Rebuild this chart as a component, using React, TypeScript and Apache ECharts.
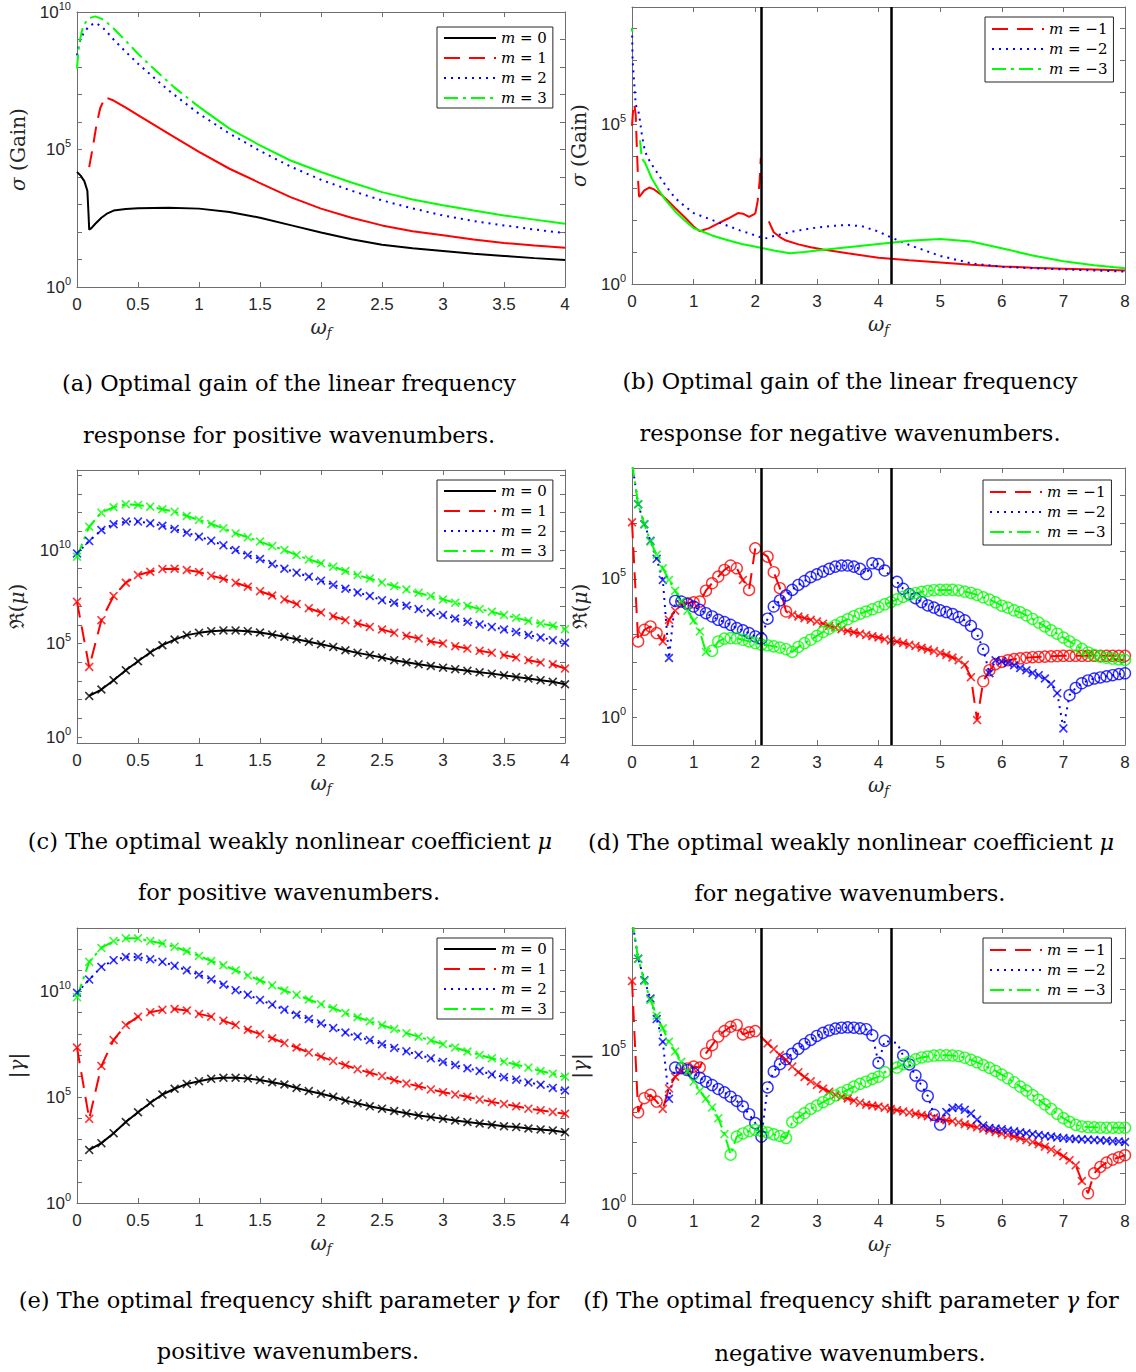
import React, { useEffect, useRef } from 'react';
import * as echarts from 'echarts';

const SERIF = 'DejaVu Serif';
const SANS = 'Liberation Sans';
const INK = '#262626';
const FRAME = '#6e6e6e';
const RED = '#ff0000';
const BLUE = '#0000ff';
const GREEN = '#00ff00';
const BLACK = '#000000';

const DASHED = [16, 9];
const DOTTED = [2, 5];
const DASHDOT = [14, 5, 3, 5];
const CROSS = 'path://M0,1.3L1.3,0L5,3.7L8.7,0L10,1.3L6.3,5L10,8.7L8.7,10L5,6.3L1.3,10L0,8.7L3.7,5Z';

const POS_NAMES = ['m = 0', 'm = 1', 'm = 2', 'm = 3'];
const NEG_NAMES = ['m = \u22121', 'm = \u22122', 'm = \u22123'];
const negBoundaries = [2.1, 4.2];

// ---------- panel (a): sigma, positive m (log10 values) ----------
const aX0 = [0, 0.03, 0.06, 0.085, 0.095, 0.1, 0.12, 0.15, 0.2, 0.25, 0.3, 0.4, 0.5, 0.75, 1.0, 1.25, 1.5, 1.75, 2.0, 2.25, 2.5, 2.75, 3.0, 3.25, 3.5, 3.75, 4.0];
const aY0 = [4.18, 4.05, 3.85, 3.5, 2.6, 2.08, 2.15, 2.3, 2.52, 2.68, 2.78, 2.84, 2.86, 2.88, 2.85, 2.73, 2.52, 2.25, 1.98, 1.74, 1.54, 1.41, 1.31, 1.21, 1.13, 1.05, 0.98];
const aX1d = [0.1, 0.13, 0.16, 0.19, 0.22, 0.25];
const aY1d = [4.36, 5.1, 5.9, 6.5, 6.8, 6.87];
const aX1s = [0.25, 0.3, 0.4, 0.5, 0.75, 1.0, 1.25, 1.5, 1.75, 2.0, 2.25, 2.5, 2.75, 3.0, 3.25, 3.5, 3.75, 4.0];
const aY1s = [6.87, 6.78, 6.52, 6.25, 5.58, 4.91, 4.3, 3.78, 3.27, 2.85, 2.52, 2.24, 2.03, 1.88, 1.73, 1.6, 1.51, 1.43];
const aX2 = [0, 0.02, 0.05, 0.1, 0.15, 0.2, 0.25, 0.3, 0.4, 0.5, 0.75, 1.0, 1.25, 1.5, 1.75, 2.0, 2.25, 2.5, 2.75, 3.0, 3.25, 3.5, 3.75, 4.0];
const aY2 = [8.42, 8.9, 9.2, 9.5, 9.6, 9.48, 9.25, 9.0, 8.55, 8.12, 7.15, 6.3, 5.58, 4.95, 4.38, 3.9, 3.5, 3.15, 2.86, 2.6, 2.4, 2.24, 2.09, 1.96];
const aX3d = [0, 0.01, 0.02, 0.05, 0.1, 0.15, 0.2, 0.25, 0.3, 0.4, 0.5, 0.6, 0.7, 0.8, 0.9, 1.0];
const aY3d = [7.94, 8.5, 8.9, 9.5, 9.78, 9.84, 9.76, 9.6, 9.4, 8.95, 8.48, 8.06, 7.65, 7.25, 6.9, 6.55];
const aX3s = [1.0, 1.25, 1.5, 1.75, 2.0, 2.25, 2.5, 2.75, 3.0, 3.25, 3.5, 3.75, 4.0];
const aY3s = [6.55, 5.76, 5.15, 4.6, 4.18, 3.8, 3.45, 3.18, 2.97, 2.78, 2.6, 2.45, 2.3];

// ---------- panel (b): sigma, negative m ----------
const bX1a = [0, 0.02, 0.035, 0.06, 0.08, 0.1, 0.115];
const bY1a = [4.95, 5.5, 5.65, 5.3, 4.2, 3.2, 2.72];
const bX1b = [0.115, 0.2, 0.28, 0.36, 0.45, 0.55, 0.7, 0.86, 1.0, 1.1, 1.25, 1.4, 1.56, 1.72, 1.8, 1.9, 2.0];
const bY1b = [2.72, 2.93, 3.02, 2.96, 2.83, 2.67, 2.38, 2.08, 1.8, 1.65, 1.75, 1.9, 2.05, 2.22, 2.2, 2.1, 2.2];
const bX1c = [2.0, 2.04, 2.07, 2.09];
const bY1c = [2.2, 2.6, 3.2, 3.95];
const bX1d = [2.22, 2.3, 2.4, 2.5, 2.7, 2.9, 3.1, 3.5, 4.0, 4.5, 5.0, 5.5, 6.0, 6.5, 7.0, 7.5, 8.0];
const bY1d = [1.96, 1.62, 1.47, 1.36, 1.24, 1.15, 1.08, 0.96, 0.82, 0.74, 0.67, 0.6, 0.55, 0.51, 0.48, 0.45, 0.42];
const bX2 = [0, 0.01, 0.06, 0.1, 0.13, 0.16, 0.21, 0.29, 0.43, 0.54, 0.7, 0.86, 1.0, 1.25, 1.5, 1.75, 2.0, 2.15, 2.3, 2.6, 2.9, 3.2, 3.5, 3.75, 4.0, 4.2, 4.5, 5.0, 5.5, 6.0, 6.5, 7.0, 7.5, 8.0];
const bY2 = [8.0, 7.0, 5.6, 5.45, 5.1, 4.67, 4.15, 3.83, 3.42, 3.1, 2.69, 2.43, 2.22, 2.04, 1.86, 1.68, 1.52, 1.42, 1.5, 1.64, 1.74, 1.81, 1.85, 1.8, 1.64, 1.46, 1.22, 0.88, 0.65, 0.54, 0.49, 0.46, 0.42, 0.39];
const bX3a = [0, 0.006];
const bY3a = [8.0, 7.9];
const bX3b = [0.13, 0.15, 0.17];
const bY3b = [4.5, 4.1, 3.9];
const bX3c = [0.17, 0.21, 0.32, 0.43, 0.54, 0.7, 0.86, 1.0, 1.13, 1.3, 1.5, 1.78, 2.05, 2.32, 2.56, 2.8, 3.0, 3.5, 4.0, 4.2, 4.5, 5.0, 5.5, 6.0, 6.5, 7.0, 7.5, 8.0];
const bY3c = [3.9, 3.8, 3.31, 2.95, 2.64, 2.27, 1.98, 1.75, 1.65, 1.52, 1.4, 1.25, 1.15, 1.04, 0.96, 1.0, 1.05, 1.15, 1.25, 1.29, 1.35, 1.41, 1.33, 1.12, 0.89, 0.71, 0.59, 0.49];

// ---------- panels (c), (e): positive m, omega_f = 0 ... 4 ----------
const posOmega = [0, 0.1, 0.2, 0.3, 0.4, 0.5, 0.6, 0.7, 0.8, 0.9, 1.0, 1.1, 1.2, 1.3, 1.4, 1.5, 1.6, 1.7, 1.8, 1.9, 2.0, 2.1, 2.2, 2.3, 2.4, 2.5, 2.6, 2.7, 2.8, 2.9, 3.0, 3.1, 3.2, 3.3, 3.4, 3.5, 3.6, 3.7, 3.8, 3.9, 4.0];
const cY0 = [null, 2.2, 2.54, 3.04, 3.57, 4.05, 4.52, 4.91, 5.21, 5.45, 5.57, 5.66, 5.7, 5.7, 5.66, 5.59, 5.48, 5.36, 5.23, 5.09, 4.96, 4.82, 4.64, 4.5, 4.38, 4.25, 4.11, 4.0, 3.89, 3.8, 3.71, 3.63, 3.54, 3.46, 3.39, 3.3, 3.21, 3.13, 3.04, 2.95, 2.82];
const cY1 = [7.23, 3.75, 6.25, 7.54, 8.25, 8.66, 8.84, 8.98, 9.0, 8.93, 8.82, 8.63, 8.46, 8.25, 8.04, 7.8, 7.57, 7.36, 7.11, 6.89, 6.66, 6.46, 6.25, 6.07, 5.89, 5.75, 5.57, 5.41, 5.27, 5.11, 5.0, 4.86, 4.73, 4.61, 4.5, 4.38, 4.25, 4.11, 3.98, 3.89, 3.66];
const cY2 = [9.82, 10.48, 11.07, 11.38, 11.52, 11.52, 11.43, 11.3, 11.13, 10.93, 10.71, 10.5, 10.25, 10.0, 9.73, 9.52, 9.25, 9.0, 8.79, 8.57, 8.36, 8.14, 7.93, 7.73, 7.54, 7.32, 7.18, 7.02, 6.84, 6.66, 6.52, 6.34, 6.16, 6.02, 5.89, 5.75, 5.61, 5.45, 5.32, 5.18, 5.04];
const cY3 = [9.64, 11.25, 12.0, 12.29, 12.45, 12.41, 12.32, 12.18, 12.05, 11.82, 11.61, 11.39, 11.16, 10.89, 10.68, 10.45, 10.21, 10.0, 9.73, 9.5, 9.29, 9.11, 8.88, 8.66, 8.48, 8.27, 8.07, 7.89, 7.71, 7.54, 7.36, 7.18, 7.02, 6.84, 6.7, 6.52, 6.38, 6.21, 6.07, 5.95, 5.77];
const eY0 = [null, 2.51, 2.83, 3.3, 3.83, 4.29, 4.73, 5.13, 5.4, 5.63, 5.76, 5.87, 5.92, 5.92, 5.89, 5.81, 5.71, 5.6, 5.44, 5.29, 5.16, 5.02, 4.84, 4.71, 4.57, 4.46, 4.35, 4.24, 4.14, 4.06, 3.98, 3.9, 3.83, 3.76, 3.7, 3.63, 3.59, 3.52, 3.48, 3.43, 3.35];
const eY1 = [7.35, 3.98, 6.48, 7.71, 8.41, 8.81, 9.02, 9.13, 9.17, 9.1, 8.94, 8.81, 8.62, 8.41, 8.19, 7.98, 7.79, 7.56, 7.35, 7.11, 6.92, 6.71, 6.52, 6.32, 6.16, 6.0, 5.81, 5.65, 5.52, 5.37, 5.24, 5.13, 5.02, 4.89, 4.78, 4.68, 4.57, 4.46, 4.38, 4.3, 4.22];
const eY2 = [9.94, 10.56, 11.16, 11.48, 11.63, 11.63, 11.52, 11.4, 11.21, 11.0, 10.79, 10.57, 10.32, 10.06, 9.84, 9.6, 9.38, 9.14, 8.9, 8.7, 8.49, 8.27, 8.06, 7.87, 7.7, 7.51, 7.33, 7.17, 7.0, 6.84, 6.67, 6.52, 6.37, 6.24, 6.08, 5.95, 5.83, 5.7, 5.59, 5.44, 5.32];
const eY3 = [9.73, 11.4, 12.06, 12.38, 12.51, 12.51, 12.38, 12.27, 12.11, 11.9, 11.68, 11.44, 11.24, 11.0, 10.76, 10.52, 10.29, 10.05, 9.84, 9.62, 9.4, 9.21, 8.98, 8.78, 8.59, 8.41, 8.22, 8.03, 7.86, 7.68, 7.51, 7.35, 7.16, 7.0, 6.84, 6.68, 6.54, 6.4, 6.24, 6.11, 5.97];

// ---------- panels (d), (f): negative m, omega_f = 0 ... 8 ----------
const negOmega = [0, 0.1, 0.2, 0.3, 0.4, 0.5, 0.6, 0.7, 0.8, 0.9, 1.0, 1.1, 1.2, 1.3, 1.4, 1.5, 1.6, 1.7, 1.8, 1.9, 2.0, 2.1, 2.2, 2.3, 2.4, 2.5, 2.6, 2.7, 2.8, 2.9, 3.0, 3.1, 3.2, 3.3, 3.4, 3.5, 3.6, 3.7, 3.8, 3.9, 4.0, 4.1, 4.2, 4.3, 4.4, 4.5, 4.6, 4.7, 4.8, 4.9, 5.0, 5.1, 5.2, 5.3, 5.4, 5.5, 5.6, 5.7, 5.8, 5.9, 6.0, 6.1, 6.2, 6.3, 6.4, 6.5, 6.6, 6.7, 6.8, 6.9, 7.0, 7.1, 7.2, 7.3, 7.4, 7.5, 7.6, 7.7, 7.8, 7.9, 8.0];
const dY1 = [7.04, 2.74, 3.16, 3.28, 3.04, 2.74, 3.52, 3.85, 4.05, 4.12, 4.15, 4.18, 4.57, 4.84, 5.08, 5.32, 5.48, 5.38, 4.96, 4.6, 6.1, null, 5.8, 5.24, 4.66, 3.82, 3.7, 3.64, 3.58, 3.52, 3.46, 3.38, 3.3, 3.24, 3.18, 3.12, 3.07, 3.02, 2.97, 2.93, 2.88, 2.82, 2.77, 2.73, 2.68, 2.62, 2.57, 2.51, 2.45, 2.39, 2.32, 2.25, 2.16, 2.06, 1.9, 1.45, -0.1, 1.3, 1.7, 1.92, 2.0, 2.06, 2.1, 2.13, 2.15, 2.17, 2.18, 2.19, 2.2, 2.21, 2.22, 2.22, 2.22, 2.22, 2.22, 2.22, 2.22, 2.22, 2.22, 2.22, 2.22];
const dK1 = 'xooooxxxxoooooooooxoo-ooooxxxxxxxxxxxxxxxxxxxxxxxxxxxxxxxoooooooooooooooooooooooo';
const dY2 = [9.2, 7.69, 6.97, 6.37, 5.72, 4.96, 2.14, 4.2, 4.18, 4.09, 4.0, 3.88, 3.76, 3.64, 3.52, 3.44, 3.34, 3.22, 3.14, 3.04, 2.92, 2.84, 3.56, 4.0, 4.22, 4.4, 4.6, 4.78, 4.92, 5.06, 5.16, 5.26, 5.36, 5.44, 5.48, 5.48, 5.44, 5.36, 5.17, 5.56, 5.53, 5.3, null, 4.89, 4.64, 4.45, 4.3, 4.16, 4.04, 3.96, 3.86, 3.8, 3.73, 3.62, 3.5, 3.3, 3.0, 2.45, 1.59, 2.06, 2.02, 1.96, 1.88, 1.78, 1.7, 1.6, 1.52, 1.4, 1.2, 0.87, -0.4, 0.8, 1.06, 1.23, 1.33, 1.4, 1.44, 1.48, 1.52, 1.56, 1.59];
const dK2 = 'xxxxxxxooooooooooooooooooooooooooooooooooo-oooooooooooooooxxxxxxxxxxxxxoooooooooo';
const dY3 = [9.2, 7.69, 6.97, 6.35, 5.87, 5.38, 4.96, 4.57, 4.18, 3.85, 3.49, 3.1, 2.36, 2.4, 2.74, 2.84, 2.86, 2.85, 2.8, 2.74, 2.68, 2.62, 2.6, 2.56, 2.52, 2.46, 2.36, 2.54, 2.68, 2.8, 2.94, 3.08, 3.2, 3.32, 3.44, 3.54, 3.65, 3.74, 3.82, 3.9, 3.98, 4.08, 4.16, 4.26, 4.35, 4.42, 4.48, 4.53, 4.56, 4.59, 4.6, 4.6, 4.6, 4.58, 4.54, 4.49, 4.42, 4.33, 4.25, 4.15, 4.03, 3.96, 3.86, 3.79, 3.68, 3.55, 3.42, 3.28, 3.14, 3.02, 2.88, 2.74, 2.6, 2.47, 2.34, 2.25, 2.19, 2.15, 2.12, 2.09, 2.07];
const dK3 = 'xxxxxxxxxxxxxoooooooooooooooooooooooooooooooooooooooooooooooooooooooooooooooooooo';
const fY1 = [7.27, 2.99, 3.45, 3.56, 3.34, 3.1, 3.77, 4.15, 4.32, 4.42, 4.48, 4.45, 4.91, 5.18, 5.46, 5.64, 5.78, 5.84, 5.53, 5.6, 5.64, null, 5.24, 5.05, 4.86, 4.7, 4.48, 4.3, 4.14, 4.0, 3.88, 3.76, 3.66, 3.56, 3.49, 3.44, 3.37, 3.3, 3.24, 3.21, 3.18, 3.14, 3.1, 3.06, 3.02, 2.98, 2.94, 2.9, 2.86, 2.82, 2.77, 2.73, 2.7, 2.66, 2.6, 2.55, 2.5, 2.45, 2.4, 2.35, 2.3, 2.25, 2.2, 2.14, 2.08, 2.02, 1.95, 1.87, 1.78, 1.68, 1.56, 1.43, 1.26, 0.75, 0.35, 1.0, 1.21, 1.35, 1.45, 1.52, 1.59];
const fK1 = 'xooooxxxxoooooooooooo-xxxxxxxxxxxxxxxxxxxxxxxxxxxxxxxxxxxxxxxxxxxxxxxxxxxxooooooo';
const fY2 = [9.3, 8.0, 7.3, 6.7, 6.03, 5.29, 3.43, 4.45, 4.43, 4.37, 4.26, 4.12, 3.99, 3.88, 3.75, 3.64, 3.5, 3.36, 3.18, 2.93, 2.64, 2.2, 3.8, 4.32, 4.56, 4.72, 4.9, 5.06, 5.22, 5.35, 5.48, 5.58, 5.66, 5.72, 5.75, 5.76, 5.75, 5.73, 5.7, 5.5, 4.6, 5.32, null, 5.25, 4.84, 4.55, 4.19, 3.86, 3.52, 2.91, 2.59, 3.0, 3.13, 3.15, 3.07, 2.95, 2.75, 2.56, 2.48, 2.46, 2.44, 2.4, 2.37, 2.34, 2.31, 2.28, 2.25, 2.22, 2.2, 2.17, 2.15, 2.13, 2.12, 2.11, 2.1, 2.09, 2.08, 2.07, 2.05, 2.04, 2.02];
const fK2 = 'xxxxxxxooooooooooooooooooooooooooooooooooox-oooooooxxxxxxxxxxxxxxxxxxxxxxxxxxxxxxx';
const fY3 = [9.3, 8.0, 7.27, 6.65, 6.14, 5.73, 5.29, 4.97, 4.64, 4.32, 3.99, 3.69, 3.43, 3.15, 2.8, 2.28, 1.61, 2.2, 2.3, 2.38, 2.42, 2.38, 2.33, 2.27, 2.22, 2.15, 2.67, 2.82, 2.96, 3.1, 3.21, 3.32, 3.43, 3.54, 3.63, 3.72, 3.83, 3.92, 3.99, 4.08, 4.15, 4.3, null, 4.45, 4.56, 4.64, 4.72, 4.78, 4.81, 4.84, 4.85, 4.85, 4.84, 4.82, 4.77, 4.7, 4.62, 4.53, 4.44, 4.34, 4.22, 4.1, 3.97, 3.83, 3.7, 3.55, 3.4, 3.25, 3.1, 2.94, 2.8, 2.68, 2.58, 2.53, 2.51, 2.5, 2.49, 2.49, 2.49, 2.49, 2.49];
const fK3 = 'xxxxxxxxxxxxxxxxoooooooooooooooooooooooooo-oooooooooooooooooooooooooooooooooooooo';

// ---------- axes ----------
const aDecades = [0, 1, 2, 3, 4, 5, 6, 7, 8, 9, 10];
const bDecades = [0, 1, 2, 3, 4, 5, 6, 7, 8];
const cDecades = [0, 1, 2, 3, 4, 5, 6, 7, 8, 9, 10, 11, 12, 13, 14];
const dDecades = [0, 1, 2, 3, 4, 5, 6, 7, 8];
const eDecades = [0, 1, 2, 3, 4, 5, 6, 7, 8, 9, 10, 11, 12, 13];
const fDecades = [0, 1, 2, 3, 4, 5, 6, 7, 8, 9];
const posExpLabels = [0, 5, 10];
const negExpLabels = [0, 5];

const panels = [
  { grid: { left: 77, top: 12, width: 488, height: 275 }, xMax: 4, xStep: 0.5, yMin: 0, yMax: 10, ticks: aDecades, labels: posExpLabels, yName: '{i|σ} (Gain)', yGap: 49, legend: { left: 437, top: 27, names: POS_NAMES } },
  { grid: { left: 632, top: 7, width: 493, height: 277 }, xMax: 8, xStep: 1, yMin: 0, yMax: 8.67, ticks: bDecades, labels: negExpLabels, yName: '{i|σ} (Gain)', yGap: 43, legend: { left: 985, top: 17, names: NEG_NAMES } },
  { grid: { left: 77, top: 470, width: 488, height: 273 }, xMax: 4, xStep: 0.5, yMin: -0.32, yMax: 14.28, ticks: cDecades, labels: posExpLabels, yName: 'ℜ({i|μ})', yGap: 50, legend: { left: 437, top: 480, names: POS_NAMES } },
  { grid: { left: 632, top: 468, width: 493, height: 277 }, xMax: 8, xStep: 1, yMin: -1, yMax: 9, ticks: dDecades, labels: negExpLabels, yName: 'ℜ({i|μ})', yGap: 42, legend: { left: 983, top: 480, names: NEG_NAMES } },
  { grid: { left: 77, top: 928, width: 488, height: 275 }, xMax: 4, xStep: 0.5, yMin: 0, yMax: 13, ticks: eDecades, labels: posExpLabels, yName: '|{i|γ}|', yGap: 50, legend: { left: 437, top: 938, names: POS_NAMES } },
  { grid: { left: 632, top: 928, width: 493, height: 276 }, xMax: 8, xStep: 1, yMin: 0, yMax: 9, ticks: fDecades, labels: negExpLabels, yName: '|{i|γ}|', yGap: 42, legend: { left: 983, top: 938, names: NEG_NAMES } },
];

const captions = [
  { x: 289, y: 383, text: '(a) Optimal gain of the linear frequency' },
  { x: 289, y: 435, text: 'response for positive wavenumbers.' },
  { x: 850, y: 381, text: '(b) Optimal gain of the linear frequency' },
  { x: 850, y: 433, text: 'response for negative wavenumbers.' },
  { x: 290, y: 841, text: '(c) The optimal weakly nonlinear coefficient {i|μ}' },
  { x: 289, y: 892, text: 'for positive wavenumbers.' },
  { x: 851, y: 842, text: '(d) The optimal weakly nonlinear coefficient {i|μ}' },
  { x: 850, y: 893, text: 'for negative wavenumbers.' },
  { x: 289, y: 1300, text: '(e) The optimal frequency shift parameter {i|γ} for' },
  { x: 288, y: 1351, text: 'positive wavenumbers.' },
  { x: 851, y: 1300, text: '(f) The optimal frequency shift parameter {i|γ} for' },
  { x: 850, y: 1353, text: 'negative wavenumbers.' },
];

function pairs(xs: number[], ys: (number | null)[]) {
  const out: number[][] = [];
  for (let i = 0; i < xs.length; i++) {
    const y = ys[i];
    if (y !== null && y !== undefined) out.push([xs[i], y]);
  }
  return out;
}

function lineS(name: string, g: number, xs: number[], ys: (number | null)[], color: string, dash: any, extra: any = {}) {
  return {
    type: 'line', name, xAxisIndex: 2 * g, yAxisIndex: 2 * g,
    data: pairs(xs, ys), symbol: 'none', showSymbol: false,
    lineStyle: { color, width: 2, type: dash }, itemStyle: { color },
    silent: true, emphasis: { disabled: true }, clip: true, z: 2, ...extra,
  };
}

function markS(g: number, xs: number[], ys: (number | null)[], kinds: string | null, kind: string, color: string) {
  const data: number[][] = [];
  for (let i = 0; i < xs.length; i++) {
    const y = ys[i];
    const k = kinds ? kinds[i] : 'x';
    if (y !== null && y !== undefined && k === kind) data.push([xs[i], y]);
  }
  const isX = kind === 'x';
  return {
    type: 'scatter', xAxisIndex: 2 * g, yAxisIndex: 2 * g, data,
    symbol: isX ? CROSS : 'circle', symbolSize: isX ? 9 : 11,
    itemStyle: isX ? { color } : { color: 'rgba(0,0,0,0)', borderColor: color, borderWidth: 1.4 },
    silent: true, emphasis: { disabled: true }, clip: true, z: 3,
  };
}

const boundaryLines = {
  silent: true, symbol: ['none', 'none'], label: { show: false },
  lineStyle: { color: '#000', width: 2.5, type: 'solid' },
  emphasis: { disabled: true },
  data: negBoundaries.map((x) => ({ xAxis: x })),
};

function buildOption() {
  const grid: any[] = [];
  const xAxis: any[] = [];
  const yAxis: any[] = [];
  const legend: any[] = [];
  const frameLine = { show: true, onZero: false, lineStyle: { color: FRAME, width: 1 } };
  panels.forEach((p, g) => {
    grid.push({ ...p.grid, containLabel: false, show: false });
    const xc = {
      type: 'value', gridIndex: g, min: 0, max: p.xMax, interval: p.xStep,
      splitLine: { show: false }, axisLine: frameLine,
      axisTick: { show: true, inside: true, length: 5, lineStyle: { color: FRAME, width: 1 } },
    };
    xAxis.push({
      ...xc, position: 'bottom',
      axisLabel: { show: true, margin: 9, color: INK, fontFamily: SANS, fontSize: 17 },
      name: '{w|ω}{f|f}', nameLocation: 'middle', nameGap: 28,
      nameTextStyle: {
        rich: {
          w: { fontFamily: SERIF, fontStyle: 'italic', fontSize: 20, color: INK, lineHeight: 24 },
          f: { fontFamily: SERIF, fontStyle: 'italic', fontSize: 13, color: INK, lineHeight: 12, verticalAlign: 'bottom' },
        },
      },
    });
    xAxis.push({ ...xc, position: 'top', axisLabel: { show: false } });
    const yc = {
      type: 'value', gridIndex: g, min: p.yMin, max: p.yMax,
      splitLine: { show: false }, axisLine: frameLine,
      axisTick: { show: true, inside: true, length: 5, lineStyle: { color: FRAME, width: 1 }, customValues: p.ticks },
    };
    yAxis.push({
      ...yc, position: 'left',
      axisLabel: {
        show: true, customValues: p.labels, margin: 6,
        formatter: (v: number) => `{b|10}{s|${v}}`,
        rich: {
          b: { fontFamily: SANS, fontSize: 17, color: INK, lineHeight: 24 },
          s: { fontFamily: SANS, fontSize: 11, color: INK, lineHeight: 12, verticalAlign: 'top' },
        },
      },
      name: p.yName, nameLocation: 'middle', nameGap: p.yGap, nameRotate: 90,
      nameTextStyle: {
        fontFamily: SERIF, fontSize: 20, color: INK,
        rich: { i: { fontFamily: SERIF, fontStyle: 'italic', fontSize: 20, color: INK } },
      },
    });
    yAxis.push({ ...yc, position: 'right', axisLabel: { show: false } });
    const four = p.legend.names.length === 4;
    legend.push({
      show: true, orient: 'vertical', left: p.legend.left, top: p.legend.top,
      data: p.legend.names, itemWidth: 52, itemHeight: 14, itemGap: 0,
      padding: four ? [1, 6, 0, 6] : [2, 6, 3, 6],
      borderColor: INK, borderWidth: 1, borderRadius: 0, backgroundColor: '#ffffff',
      selectedMode: false,
      itemStyle: { color: 'rgba(0,0,0,0)', borderColor: 'rgba(0,0,0,0)', borderWidth: 0, opacity: 0 },
      formatter: (name: string) => '{i|m}' + name.slice(1),
      textStyle: {
        fontFamily: SERIF, fontSize: 15, color: '#000', lineHeight: 20,
        rich: { i: { fontFamily: SERIF, fontStyle: 'italic', fontSize: 15, color: '#000', lineHeight: 20 } },
      },
    });
  });

  const series: any[] = [];
  // (a)
  series.push(lineS('m = 0', 0, aX0, aY0, BLACK, 'solid'));
  series.push(lineS('m = 1', 0, aX1d, aY1d, RED, DASHED));
  series.push(lineS('m = 1 ', 0, aX1s, aY1s, RED, 'solid'));
  series.push(lineS('m = 2', 0, aX2, aY2, BLUE, DOTTED));
  series.push(lineS('m = 3', 0, aX3d, aY3d, GREEN, DASHDOT));
  series.push(lineS('m = 3 ', 0, aX3s, aY3s, GREEN, 'solid'));
  // (b)
  series.push(lineS(NEG_NAMES[0], 1, bX1a, bY1a, RED, DASHED, { markLine: boundaryLines }));
  series.push(lineS(NEG_NAMES[0] + ' ', 1, bX1b, bY1b, RED, 'solid'));
  series.push(lineS(NEG_NAMES[0] + ' ', 1, bX1c, bY1c, RED, DASHED));
  series.push(lineS(NEG_NAMES[0] + ' ', 1, bX1d, bY1d, RED, 'solid'));
  series.push(lineS(NEG_NAMES[1], 1, bX2, bY2, BLUE, DOTTED));
  series.push(lineS(NEG_NAMES[2], 1, bX3a, bY3a, GREEN, DASHDOT));
  series.push(lineS(NEG_NAMES[2] + ' ', 1, bX3b, bY3b, GREEN, DASHDOT));
  series.push(lineS(NEG_NAMES[2] + ' ', 1, bX3c, bY3c, GREEN, 'solid'));
  // (c), (e)
  const posSets = [
    { g: 2, ys: [cY0, cY1, cY2, cY3] },
    { g: 4, ys: [eY0, eY1, eY2, eY3] },
  ];
  const posStyles = [
    { c: BLACK, d: 'solid' }, { c: RED, d: DASHED }, { c: BLUE, d: DOTTED }, { c: GREEN, d: DASHDOT },
  ];
  posSets.forEach((s) => {
    s.ys.forEach((ys, k) => {
      series.push(lineS(POS_NAMES[k], s.g, posOmega, ys, posStyles[k].c, posStyles[k].d));
      series.push(markS(s.g, posOmega, ys, null, 'x', posStyles[k].c));
    });
  });
  // (d), (f)
  const negSets = [
    { g: 3, ys: [dY1, dY2, dY3], ks: [dK1, dK2, dK3] },
    { g: 5, ys: [fY1, fY2, fY3], ks: [fK1, fK2, fK3] },
  ];
  const negStyles = [{ c: RED, d: DASHED }, { c: BLUE, d: DOTTED }, { c: GREEN, d: DASHDOT }];
  negSets.forEach((s) => {
    s.ys.forEach((ys, k) => {
      series.push(lineS(NEG_NAMES[k], s.g, negOmega, ys, negStyles[k].c, negStyles[k].d, k === 0 ? { markLine: boundaryLines } : {}));
    });
    s.ys.forEach((ys, k) => {
      series.push(markS(s.g, negOmega, ys, s.ks[k], 'o', negStyles[k].c));
      series.push(markS(s.g, negOmega, ys, s.ks[k], 'x', negStyles[k].c));
    });
  });

  const graphic = captions.map((c) => ({
    type: 'text', x: c.x, y: c.y, silent: true,
    style: {
      text: c.text, textAlign: 'center', textVerticalAlign: 'middle', verticalAlign: 'middle',
      fontFamily: SERIF, fontSize: 22.5, fill: '#000',
      rich: { i: { fontFamily: SERIF, fontStyle: 'italic', fontSize: 22.5, fill: '#000', color: '#000' } },
    },
  }));

  return {
    animation: false,
    backgroundColor: '#ffffff',
    textStyle: { fontFamily: SANS },
    grid, xAxis, yAxis, legend, series, graphic,
  };
}

export default function App() {
  const ref = useRef<HTMLDivElement>(null);
  useEffect(() => {
    if (!ref.current) return;
    const chart = echarts.init(ref.current, null, { renderer: 'svg' });
    chart.setOption(buildOption() as any);
    return () => chart.dispose();
  }, []);
  return (
    <div
      ref={ref}
      style={{ position: 'absolute', left: 0, top: 0, width: 1136, height: 1372, background: '#fff' }}
    />
  );
}
